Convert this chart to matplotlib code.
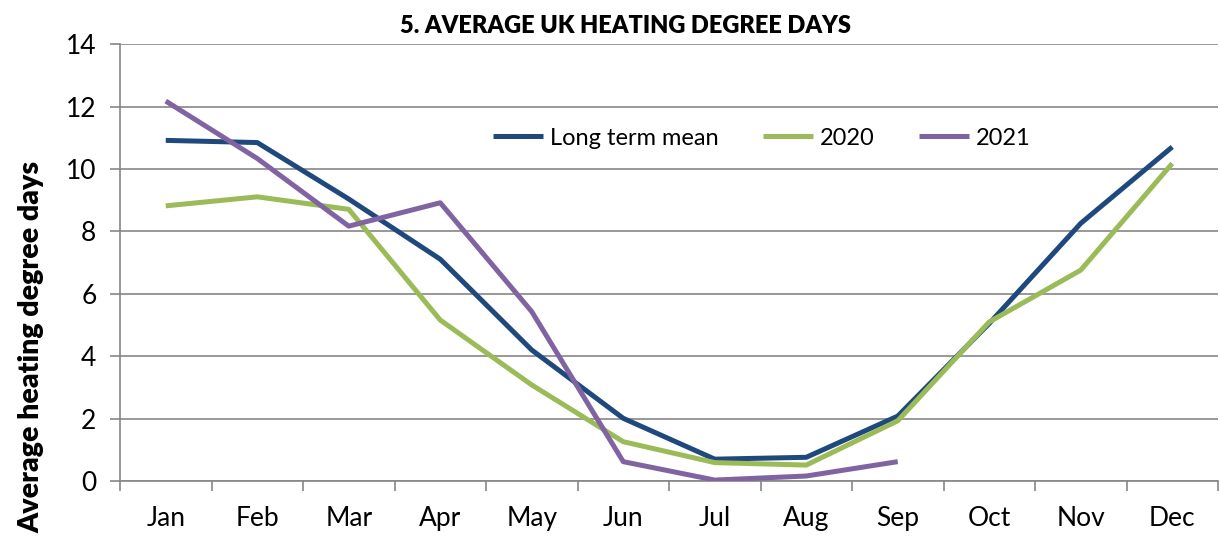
import matplotlib
matplotlib.use("Agg")
import matplotlib.pyplot as plt
from matplotlib.ticker import FixedLocator

plt.rcParams['font.family'] = ['Lato', 'DejaVu Sans']

months = ["Jan", "Feb", "Mar", "Apr", "May", "Jun", "Jul", "Aug", "Sep", "Oct", "Nov", "Dec"]
long_term = [10.92, 10.85, 9.04, 7.11, 4.20, 2.01, 0.70, 0.76, 2.08, 5.05, 8.26, 10.71]
y2020 = [8.82, 9.11, 8.71, 5.16, 3.08, 1.26, 0.59, 0.51, 1.93, 5.10, 6.76, 10.18]
y2021 = [12.18, 10.34, 8.17, 8.92, 5.43, 0.62, 0.03, 0.16, 0.62]
yticks = [0, 2, 4, 6, 8, 10, 12, 14]

W, H = 1220, 538
fig = plt.figure(figsize=(W / 100, H / 100), dpi=100)
ax = fig.add_axes([120 / W, 1 - 481 / H, (1218 - 120) / W, (481 - 44.3) / H])

x = list(range(len(months)))
lw = 3.6
ax.plot(x, long_term, color="#1F497D", lw=lw, label="Long term mean", solid_capstyle="butt", zorder=3)
ax.plot(x, y2020, color="#9BBB59", lw=lw, label="2020", solid_capstyle="butt", zorder=3)
ax.plot(list(range(len(y2021))), y2021, color="#8064A2", lw=lw, label="2021", solid_capstyle="butt", zorder=3)

ax.set_xlim(-0.5, len(months) - 0.5)
ax.set_ylim(0, 14)
ax.set_yticks(yticks)
ax.set_yticklabels([str(v) for v in yticks])
ax.set_xticks(x)
ax.set_xticklabels(months)
ax.xaxis.set_minor_locator(FixedLocator([i - 0.5 for i in range(len(months) + 1)]))

ax.grid(axis="y", color="#868686", lw=1.2, zorder=0)
for s in ["top", "right"]:
    ax.spines[s].set_visible(False)
for s in ["left", "bottom"]:
    ax.spines[s].set_color("#868686")
    ax.spines[s].set_linewidth(1.2)

ax.tick_params(axis="y", which="major", length=7, color="#868686", width=1.2, labelsize=19, pad=10)
ax.tick_params(axis="x", which="major", length=0, labelsize=19, pad=18)
ax.tick_params(axis="x", which="minor", length=7, color="#868686", width=1.2)

leg = ax.legend(loc="center left", bbox_to_anchor=(373 / 1098, (481 - 138) / (481 - 44.3)), ncol=3,
                frameon=False, fontsize=17, handlelength=2.1, handletextpad=0.3, columnspacing=1.9,
                borderaxespad=0, borderpad=0)

fig.text(626 / W, 1 - 26 / H, "5. AVERAGE UK HEATING DEGREE DAYS", ha="center", va="center",
         fontsize=17, fontweight="heavy")
fig.text(31 / W, 1 - 347 / H, "Average heating degree days", ha="center", va="center",
         rotation=90, fontsize=20.5, fontweight="heavy")

fig.savefig("out.png", dpi=100)
